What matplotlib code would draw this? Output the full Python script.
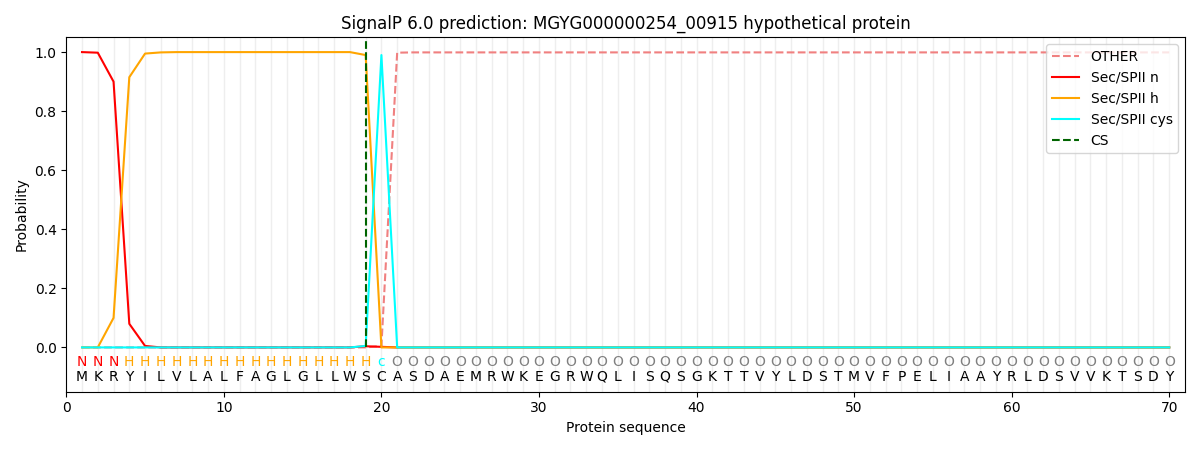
import numpy as np
import matplotlib
matplotlib.use("Agg")
import matplotlib.pyplot as plt

sequence = list("MKRYILVLALFAGLGLLWSCASDAEMRWKEGRWQLISQSGKTTVYLDSTMVFPELIAAYRLDSVVKTSDY")
labels = list("NNN" + "H" * 16 + "c" + "O" * 50)
positions = np.arange(1, len(sequence) + 1)

# probabilities per residue
sec_n = [1.0, 0.998, 0.90, 0.08, 0.005] + [0.0] * 13 + [0.004, 0.002] + [0.0] * 50
sec_h = [0.0, 0.0, 0.10, 0.915, 0.995, 0.999] + [1.0] * 12 + [0.99, 0.0] + [0.0] * 50
sec_cys = [0.0] * 18 + [0.005, 0.99] + [0.0] * 50
other = [0.0] * 19 + [0.005, 0.998] + [0.999] * 49
cs_pos = 19

label_colors = {"N": "red", "H": "orange", "c": "cyan", "O": "grey"}

fig, ax = plt.subplots(figsize=(12, 4.5), dpi=100)

for p in positions:
    ax.axvline(p, color="#eeeeee", linewidth=1, zorder=0)

ax.plot(positions, other, color="lightcoral", linestyle="--", label="OTHER")
ax.plot(positions, sec_n, color="red", label="Sec/SPII n")
ax.plot(positions, sec_h, color="orange", label="Sec/SPII h")
ax.plot(positions, sec_cys, color="cyan", label="Sec/SPII cys")

ymin, ymax = -0.15, 1.05
# cleavage site line starts at the zero level
ax.axvline(cs_pos, ymin=(0 - ymin) / (ymax - ymin), color="darkgreen",
           linestyle="--", label="CS")

for p, aa, lab in zip(positions, sequence, labels):
    ax.text(p, -0.1, aa, ha="center", va="center", fontsize=10, color="black")
    ax.text(p, -0.05, lab, ha="center", va="center", fontsize=10, color=label_colors[lab])

ax.set_xlim(0, 71)
ax.set_ylim(ymin, ymax)
ax.set_xlabel("Protein sequence")
ax.set_ylabel("Probability")
ax.set_title("SignalP 6.0 prediction: MGYG000000254_00915 hypothetical protein")
ax.legend(loc="upper right")

plt.tight_layout()
plt.savefig("out.png")
